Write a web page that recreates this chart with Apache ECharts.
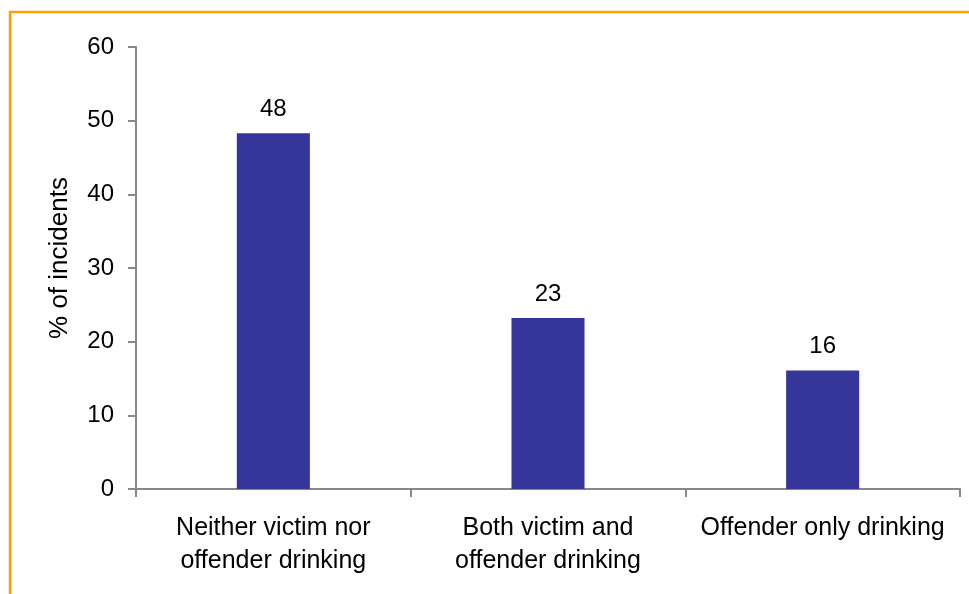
<!DOCTYPE html>
<html>
<head>
<meta charset="utf-8">
<script src="https://cdn.jsdelivr.net/npm/echarts@6/dist/echarts.min.js"></script>
<style>
html,body{margin:0;padding:0;background:#fff;}
#chart{width:969px;height:594px;}
</style>
</head>
<body>
<div id="chart"></div>
<script>
var categories = ["Neither victim nor\noffender drinking", "Both victim and\noffender drinking", "Offender only drinking"];
var values = [48.3, 23.2, 16.1];
var yTicks = { min: 0, max: 60, interval: 10 };
var yAxisName = "% of incidents";

var FONT = "Liberation Sans, Arial, sans-serif";
var chart = echarts.init(document.getElementById('chart'));
chart.setOption({
  animation: false,
  backgroundColor: '#ffffff',
  graphic: [{
    type: 'rect',
    shape: { x: 10, y: 12, width: 1200, height: 900 },
    style: { fill: 'none', stroke: '#FF9E00', lineWidth: 2.5 },
    silent: true
  }],
  grid: { left: 136, top: 47, right: 9, bottom: 105, containLabel: false },
  xAxis: {
    type: 'category',
    data: categories,
    axisLine: { lineStyle: { color: '#888888', width: 2 } },
    axisTick: { show: true, length: 8, lineStyle: { color: '#888888', width: 2 } },
    axisLabel: { color: '#000', fontFamily: FONT, fontSize: 25, lineHeight: 33, margin: 23, interval: 0 },
    splitLine: { show: false }
  },
  yAxis: {
    type: 'value',
    min: yTicks.min, max: yTicks.max, interval: yTicks.interval,
    name: yAxisName,
    nameLocation: 'middle',
    nameGap: 63,
    nameRotate: 90,
    nameTextStyle: { color: '#000', fontFamily: FONT, fontSize: 26, padding: [0, 0, 0, 20] },
    axisLine: { show: true, lineStyle: { color: '#888888', width: 2 } },
    axisTick: { show: true, length: 8, lineStyle: { color: '#888888', width: 2 } },
    axisLabel: { color: '#000', fontFamily: FONT, fontSize: 24, margin: 22 },
    splitLine: { show: false }
  },
  series: [{
    type: 'bar',
    data: values,
    barWidth: '26.6%',
    itemStyle: { color: '#35359A' },
    label: {
      show: true, position: 'top', distance: 12,
      color: '#000', fontFamily: FONT, fontSize: 24,
      formatter: function (p) { return Math.round(p.value); }
    }
  }]
});
</script>
</body>
</html>
